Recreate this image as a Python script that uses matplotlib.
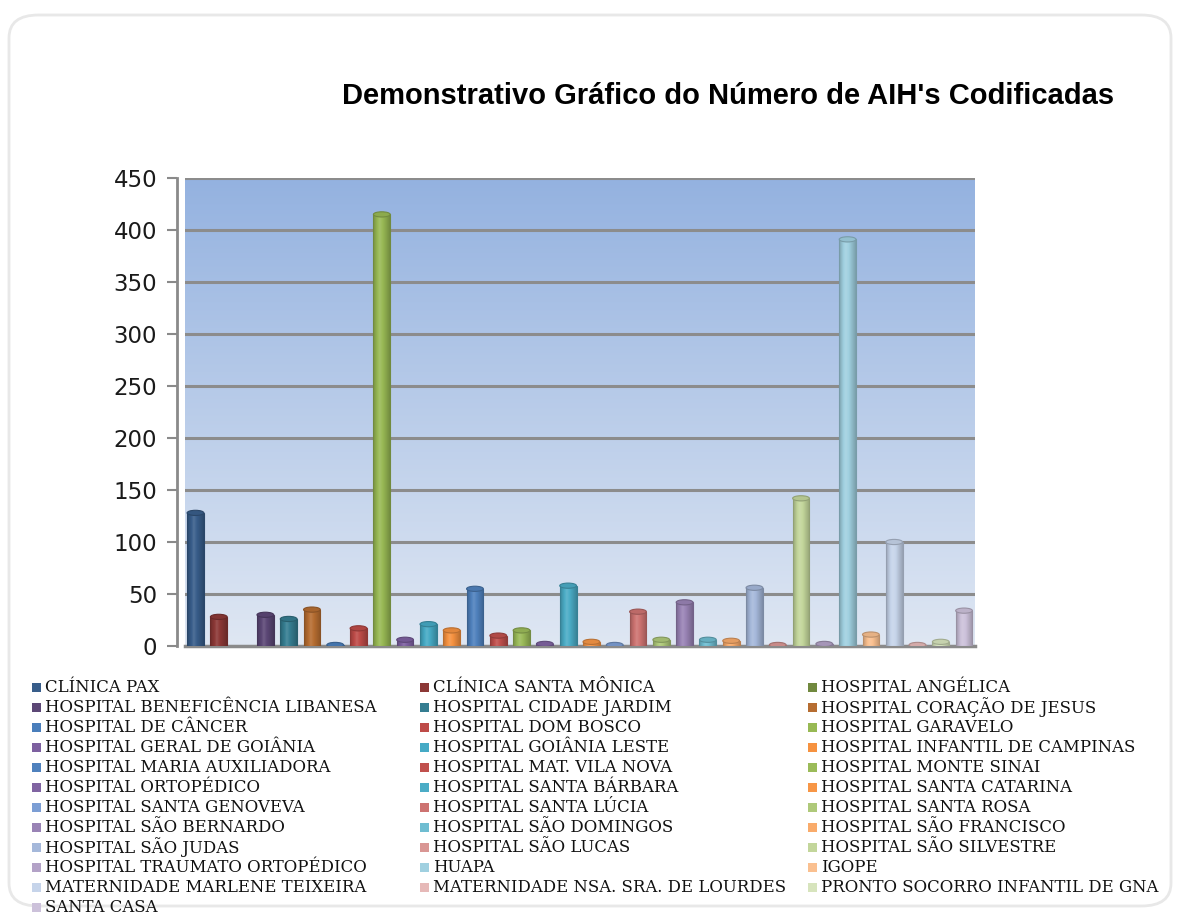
import numpy as np
import matplotlib
matplotlib.use("Agg")
import matplotlib.pyplot as plt
from matplotlib.patches import Rectangle, Ellipse, FancyBboxPatch
from matplotlib.colors import to_rgb

categories = [
    "CLÍNICA PAX", "CLÍNICA SANTA MÔNICA", "HOSPITAL ANGÉLICA",
    "HOSPITAL BENEFICÊNCIA LIBANESA", "HOSPITAL CIDADE JARDIM", "HOSPITAL CORAÇÃO DE JESUS",
    "HOSPITAL DE CÂNCER", "HOSPITAL DOM BOSCO", "HOSPITAL GARAVELO",
    "HOSPITAL GERAL DE GOIÂNIA", "HOSPITAL GOIÂNIA LESTE", "HOSPITAL INFANTIL DE CAMPINAS",
    "HOSPITAL MARIA AUXILIADORA", "HOSPITAL MAT. VILA NOVA", "HOSPITAL MONTE SINAI",
    "HOSPITAL ORTOPÉDICO", "HOSPITAL SANTA BÁRBARA", "HOSPITAL SANTA CATARINA",
    "HOSPITAL SANTA GENOVEVA", "HOSPITAL SANTA LÚCIA", "HOSPITAL SANTA ROSA",
    "HOSPITAL SÃO BERNARDO", "HOSPITAL SÃO DOMINGOS", "HOSPITAL SÃO FRANCISCO",
    "HOSPITAL SÃO JUDAS", "HOSPITAL SÃO LUCAS", "HOSPITAL SÃO SILVESTRE",
    "HOSPITAL TRAUMATO ORTOPÉDICO", "HUAPA", "IGOPE",
    "MATERNIDADE MARLENE TEIXEIRA", "MATERNIDADE NSA. SRA. DE LOURDES", "PRONTO SOCORRO INFANTIL DE GNA",
    "SANTA CASA",
]

values = [128, 28, 0, 30, 26, 35, 1, 17, 415, 6, 21, 15, 55, 10, 15, 2, 58, 4,
          1, 33, 6, 42, 6, 5, 56, 1, 142, 2, 391, 11, 100, 1, 4, 34]

colors = [
    "#385d8a", "#8c3836", "#71893f", "#5c4776", "#357d91", "#b66d31",
    "#4a7ebb", "#be4b48", "#98b954", "#7d60a0", "#46aac5", "#f69240",
    "#4f81bd", "#c0504d", "#9bbb59", "#8064a2", "#4bacc6", "#f79646",
    "#7c9ed4", "#cd7371", "#afc97a", "#9983b5", "#6fbdd1", "#f9ab6b",
    "#a5b8da", "#d99694", "#c3d69b", "#b3a2c7", "#a0d0e0", "#fac090",
    "#c6d4ea", "#e6b9b8", "#d7e4bd", "#ccc1da",
]

y_ticks = [0, 50, 100, 150, 200, 250, 300, 350, 400, 450]
title = "Demonstrativo Gráfico do Número de AIH's Codificadas"

W, H = 1181, 914
fig = plt.figure(figsize=(W / 100, H / 100), dpi=100)
fig.patch.set_facecolor("white")

# chart area frame (rounded, faint shadow)
frame = FancyBboxPatch((9 / W, 8 / H), 1162 / W, 891 / H,
                       boxstyle="round,pad=0,rounding_size=0.025",
                       transform=fig.transFigure, facecolor="white",
                       edgecolor="#e8e8e8", linewidth=2.0, zorder=-5)
fig.patches.append(frame)

# axes in pixel geometry
left, right, top, bottom = 185, 975, 178, 646
ax = fig.add_axes([left / W, 1 - bottom / H, (right - left) / W, (bottom - top) / H])
ax.set_zorder(1)
ax.patch.set_alpha(0)
n = len(categories)
x = np.arange(n)
x0, x1 = -0.45, n - 1 + 0.47
ax.set_xlim(x0, x1)
ax.set_ylim(0, 450)

# gradient background
grad = np.linspace(0, 1, 256).reshape(-1, 1)
c_top = np.array(to_rgb("#94b2e0"))
c_bot = np.array(to_rgb("#dfe7f3"))
img = c_bot[None, None, :] * (1 - grad[:, :, None]) + c_top[None, None, :] * grad[:, :, None]
ax.imshow(img, extent=(x0, x1, 0, 450), origin="lower", aspect="auto", zorder=0)

# gridlines
for t in y_ticks[1:]:
    ax.axhline(t, color="#8c8c8c", lw=2.2, zorder=1)

# cylinder-shaded bars
bw = 0.72
shade = np.concatenate([np.linspace(0.78, 1.10, 40), np.linspace(1.10, 0.76, 60)])
bars = ax.bar(x, values, width=bw, color="none", edgecolor="none", zorder=3)
for xi, v, c, b in zip(x, values, colors, bars):
    if v <= 0:
        continue
    base = np.array(to_rgb(c))
    s = shade[:, None]
    row = np.where(s > 1, base + (1 - base) * (s - 1) * 1.2, base * s)
    row = np.clip(row, 0, 1)
    im = ax.imshow(row[None, :, :], extent=(xi - bw / 2, xi + bw / 2, 0, v),
                   aspect="auto", zorder=3, interpolation="bilinear")
    im.set_clip_path(b)
    ax.add_patch(Rectangle((xi - bw / 2, 0), bw, v, facecolor="none",
                           edgecolor=tuple(base * 0.75), lw=0.8, zorder=4))
    ax.add_patch(Ellipse((xi, v), bw, 5, facecolor=tuple(np.clip(base * 0.92, 0, 1)),
                         edgecolor=tuple(base * 0.75), lw=0.8, zorder=5))

ax.set_xticks([])
ax.set_yticks(y_ticks)
ax.tick_params(axis="y", length=7, width=1.5, color="#8a8a8a", pad=7,
               labelsize=16.5, labelcolor="#1a1a1a")
for lab in ax.get_yticklabels():
    lab.set_family("DejaVu Sans")
for s_ in ["top", "right"]:
    ax.spines[s_].set_visible(False)
ax.spines["left"].set_position(("outward", 6))
ax.spines["left"].set_color("#8a8a8a")
ax.spines["left"].set_linewidth(2)
ax.spines["bottom"].set_color("#8a8a8a")
ax.spines["bottom"].set_linewidth(2.5)

# title
fig.text(342 / W, 1 - 96 / H, title, fontsize=21, fontweight="bold",
         family="Liberation Sans", ha="left", va="center", color="black")

# legend (row-wise, 3 columns)
for i, (name, c) in enumerate(zip(categories, colors)):
    r, col = divmod(i, 3)
    lx = 32 + col * 388
    ly = 687 + r * 20
    fig.patches.append(Rectangle((lx / W, 1 - (ly + 4.5) / H), 9 / W, 9 / H,
                                 transform=fig.transFigure, facecolor=c,
                                 edgecolor="none"))
    fig.text((lx + 13) / W, 1 - ly / H, name, fontsize=11.9, family="DejaVu Serif",
             ha="left", va="center", color="#111111")

fig.savefig("out.png", dpi=100)
